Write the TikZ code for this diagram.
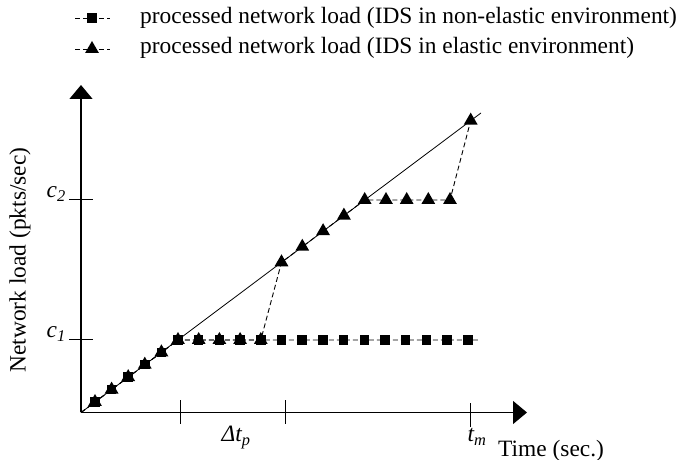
\documentclass[tikz,border=0pt]{standalone}
\usepackage{fontspec}
\setmainfont{Liberation Serif}
\usetikzlibrary{arrows.meta,shapes.geometric}

\tikzset{
  axis/.style={line width=1.3pt, -{Triangle[length=14pt,width=23pt]}},
  tickline/.style={line width=1pt},
  ideal/.style={line width=0.8pt},
  series/.style={line width=0.9pt, dash pattern=on 5pt off 3pt},
  sqmark/.style={rectangle, fill=black, inner sep=0pt, minimum size=9.5pt},
  trimark/.style={regular polygon, regular polygon sides=3, fill=black,
                  inner sep=0pt, minimum size=16pt},
  lbl/.style={inner sep=0pt},
}

\begin{document}
\begin{tikzpicture}[x=1pt, y=1pt, font=\fontsize{23.4}{28}\selectfont]
\useasboundingbox (0,0) rectangle (690,460);

% ---------- legend ----------
\coordinate (lga) at (75,442);
\coordinate (lgb) at (110,442);
\coordinate (lgc) at (75,411);
\coordinate (lgd) at (110,411);
\draw[series] (lga) -- (lgb);
\draw[series] (lgc) -- (lgd);
\node[sqmark] (lgsq) at (92,442) {};
\node[trimark] (lgtri) at (92,411) {};
\node[lbl, anchor=base west] (lgtxta) at (140,436)
  {processed network load (IDS in non-elastic environment)};
\node[lbl, anchor=base west] (lgtxtb) at (140,406)
  {processed network load (IDS in elastic environment)};

% ---------- axes ----------
\coordinate (O) at (81,47.5);
\coordinate (ytop) at (81,375);
\coordinate (xend) at (527,47.5);
\draw[axis] (O) -- (ytop);
\draw[axis] (O) -- (xend);

% y ticks
\coordinate (c1a) at (69,120);  \coordinate (c1b) at (93,120);
\coordinate (c2a) at (69,260);  \coordinate (c2b) at (93,260);
\draw[tickline] (c1a) -- (c1b);
\draw[tickline] (c2a) -- (c2b);
\node[lbl, anchor=base east] (lc1) at (66,122) {\textit{c\textsubscript{1}}};
\node[lbl, anchor=base east] (lc2) at (66,262) {\textit{c\textsubscript{2}}};

% x ticks
\coordinate (t1a) at (180.7,36);  \coordinate (t1b) at (180.7,60);
\coordinate (t2a) at (285.3,36);  \coordinate (t2b) at (285.3,60);
\coordinate (t3a) at (470.7,33);  \coordinate (t3b) at (470.7,57);
\draw[tickline] (t1a) -- (t1b);
\draw[tickline] (t2a) -- (t2b);
\draw[tickline] (t3a) -- (t3b);
\node[lbl, anchor=base] (ldt) at (236,18) {\textit{Δt\textsubscript{p}}};
\node[lbl, anchor=base] (ltm) at (477,18) {\textit{t\textsubscript{m}}};
\node[lbl, anchor=base west] (lx) at (498,4) {Time (sec.)};
\node[lbl, rotate=90] (ly) at (20,200) {Network load (pkts/sec)};

% ---------- incoming load (ideal line) ----------
\coordinate (lend) at (481,347);
\draw[ideal] (O) -- (lend);

% ---------- shared rising part ----------
\coordinate (r1) at (95,58);
\coordinate (r2) at (111.6,70.4);
\coordinate (r3) at (128.2,82.85);
\coordinate (r4) at (144.8,95.3);
\coordinate (r5) at (161.4,107.7);
\coordinate (r6) at (178,120);

% ---------- non-elastic IDS: saturates at c1 ----------
\coordinate (n1) at (198.7,120);
\coordinate (n2) at (219.4,120);
\coordinate (n3) at (240.1,120);
\coordinate (n4) at (260.8,120);
\coordinate (n5) at (281.5,120);
\coordinate (n6) at (302.2,120);
\coordinate (n7) at (322.9,120);
\coordinate (n8) at (343.6,120);
\coordinate (n9) at (364.3,120);
\coordinate (n10) at (385.0,120);
\coordinate (n11) at (405.7,120);
\coordinate (n12) at (426.4,120);
\coordinate (n13) at (447.1,120);
\coordinate (n14) at (467.8,120);
\coordinate (nend) at (479,120);
\draw[series] (O) -- (r6) -- (nend);
\foreach \c in {r1,r2,r3,r4,r5,r6,n1,n2,n3,n4,n5,n6,n7,n8,n9,n10,n11,n12,n13,n14}
  \node[sqmark] (sq-\c) at (\c) {};

% ---------- elastic IDS: scales out, c1 -> c2 -> beyond ----------
\coordinate (e1) at (198.7,120);
\coordinate (e2) at (219.4,120);
\coordinate (e3) at (240.1,120);
\coordinate (e4) at (260.8,120);
\coordinate (e5) at (281.5,197.7);
\coordinate (e6) at (302.3,213.25);
\coordinate (e7) at (323.1,228.8);
\coordinate (e8) at (343.9,244.4);
\coordinate (e9) at (364.7,260);
\coordinate (e10) at (386,260);
\coordinate (e11) at (406.7,260);
\coordinate (e12) at (428.3,260);
\coordinate (e13) at (450,260);
\coordinate (e14) at (470.7,339.4);
\draw[series] (O) -- (r6) -- (e4) -- (e5) -- (e9) -- (e13) -- (e14);
\foreach \c in {r1,r2,r3,r4,r5,r6,e1,e2,e3,e4,e5,e6,e7,e8,e9,e10,e11,e12,e13,e14}
  \node[trimark] (tri-\c) at (\c) {};
\end{tikzpicture}
\end{document}
